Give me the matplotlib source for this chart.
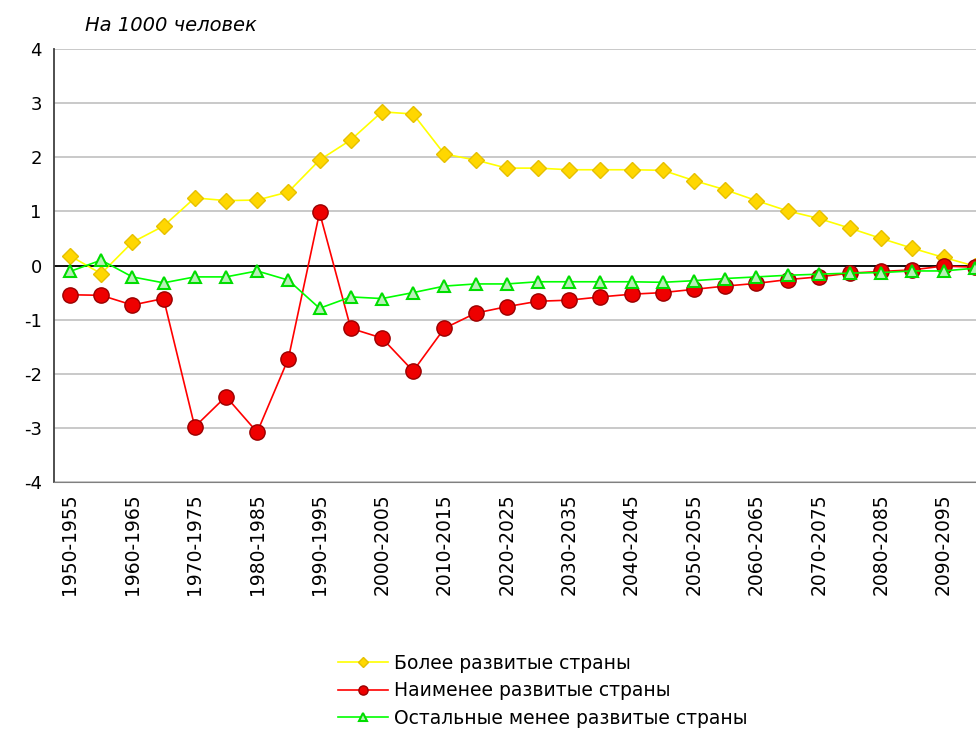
import matplotlib.pyplot as plt
import numpy as np

plt.rcParams['font.family'] = ['DejaVu Sans']
plt.rcParams['axes.unicode_minus'] = False

# Периоды (пятилетки)
periods = [f"{y}-{y + 5}" for y in range(1950, 2100, 5)]

# Значения на 1000 человек
more_dev = [0.18, -0.15, 0.43, 0.73, 1.25, 1.20, 1.21, 1.36, 1.95, 2.32,
            2.84, 2.80, 2.06, 1.95, 1.80, 1.80, 1.77, 1.77, 1.77, 1.76,
            1.57, 1.40, 1.20, 1.01, 0.87, 0.69, 0.50, 0.32, 0.15, -0.01]
least_dev = [-0.54, -0.55, -0.73, -0.61, -2.98, -2.42, -3.08, -1.72, 0.98, -1.16,
             -1.34, -1.95, -1.16, -0.88, -0.76, -0.66, -0.64, -0.58, -0.53, -0.50,
             -0.44, -0.38, -0.33, -0.26, -0.21, -0.14, -0.11, -0.08, -0.01, -0.03]
other_less_dev = [-0.11, 0.10, -0.21, -0.32, -0.21, -0.21, -0.10, -0.27, -0.79, -0.58,
                  -0.61, -0.50, -0.38, -0.34, -0.34, -0.30, -0.30, -0.30, -0.30, -0.31,
                  -0.28, -0.24, -0.21, -0.18, -0.16, -0.14, -0.13, -0.10, -0.10, -0.05]

x = np.arange(len(periods))

fig = plt.figure(figsize=(9.76, 7.31), dpi=100)
ax = fig.add_axes([0.0557, 0.3406, 0.959, 0.5923])

ax.plot(x, more_dev, color="#FFFF00", lw=1.2, marker="D", ms=8,
        mfc="#FFD700", mec="#E6C000", label="Более развитые страны", zorder=3)
ax.plot(x, least_dev, color="#FF0000", lw=1.2, marker="o", ms=11,
        mfc="#EE0000", mec="#990000", label="Наименее развитые страны", zorder=4)
ax.plot(x, other_less_dev, color="#00FF00", lw=1.2, marker="^", ms=9,
        mfc="#B8F0B8", mec="#00DD00", mew=1.5, label="Остальные менее развитые страны", zorder=5)

# Оси и сетка
ax.set_xlim(-0.5, 29.5)
ax.set_ylim(-4, 4)
ax.set_yticks(range(-4, 5))
ax.yaxis.grid(True, color="#C0C0C0", lw=1.2)
ax.set_axisbelow(True)
ax.axhline(0, color="black", lw=1.3, zorder=2)
for s in ["top", "right"]:
    ax.spines[s].set_visible(False)
ax.spines["left"].set_color("#404040")
ax.spines["bottom"].set_color("#808080")
ax.spines["left"].set_linewidth(1.3)
ax.tick_params(axis="y", labelsize=13, length=0, pad=9)
ax.set_xticks(x[::2])
ax.set_xticklabels(periods[::2], rotation=90, fontsize=13.5)
ax.tick_params(axis="x", length=0, pad=8)

fig.text(0.087, 0.965, "На 1000 человек", fontsize=14, style="italic", va="center")

fig.legend(loc="center", bbox_to_anchor=(0.556, 0.055), frameon=False, fontsize=13.5,
           handlelength=2.7, handletextpad=0.3, labelspacing=0.45, markerscale=0.6)

fig.savefig("out.png", dpi=100)
